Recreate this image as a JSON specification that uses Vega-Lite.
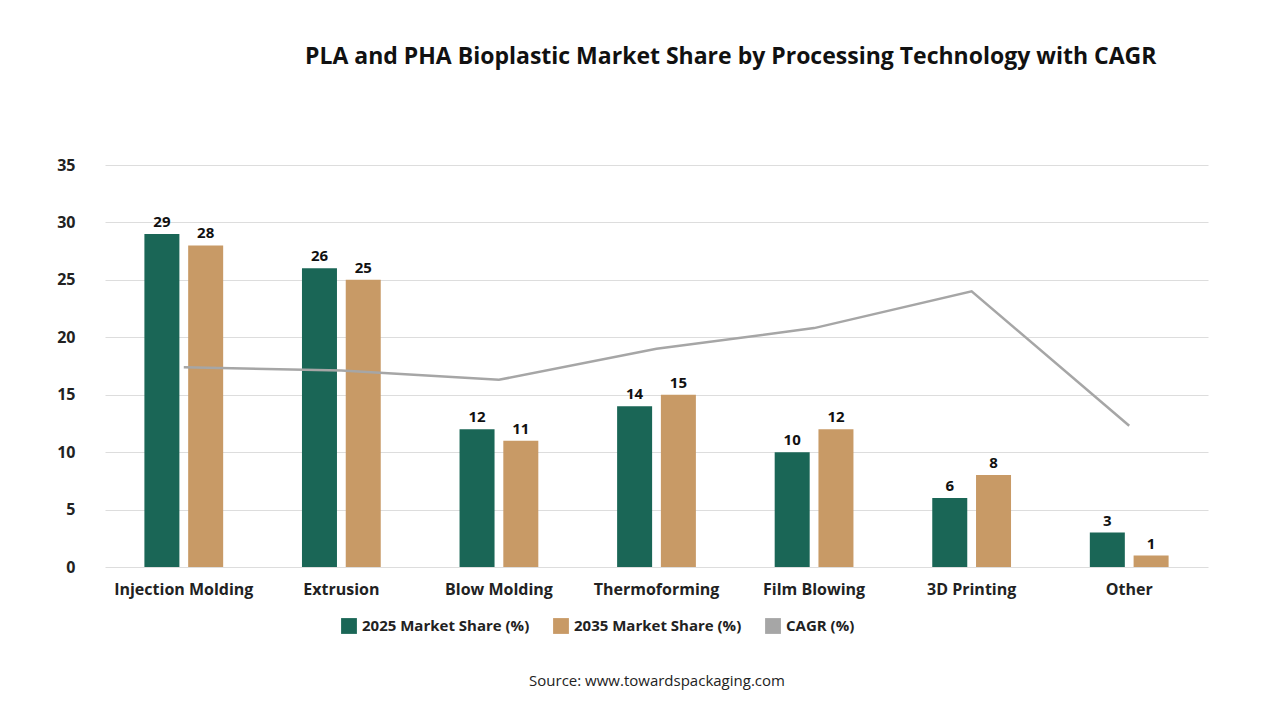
{
"$schema":"https://vega.github.io/schema/vega-lite/v6.json",
"width":1103,"height":402,
"autosize":{"type":"none"},
"padding":{"left":105,"top":165,"right":72,"bottom":153},
"background":"white",
"config":{"font":"Open Sans","view":{"stroke":null}},
"title":{"text":"PLA and PHA Bioplastic Market Share by Processing Technology with CAGR","anchor":"start","frame":"group","dx":200,"offset":88,"fontSize":23,"fontWeight":"bold","color":"#111","font":"Open Sans"},
"datasets":{
"bars":[
{"cat":"Injection Molding","series":"2025 Market Share (%)","v":29},
{"cat":"Injection Molding","series":"2035 Market Share (%)","v":28},
{"cat":"Extrusion","series":"2025 Market Share (%)","v":26},
{"cat":"Extrusion","series":"2035 Market Share (%)","v":25},
{"cat":"Blow Molding","series":"2025 Market Share (%)","v":12},
{"cat":"Blow Molding","series":"2035 Market Share (%)","v":11},
{"cat":"Thermoforming","series":"2025 Market Share (%)","v":14},
{"cat":"Thermoforming","series":"2035 Market Share (%)","v":15},
{"cat":"Film Blowing","series":"2025 Market Share (%)","v":10},
{"cat":"Film Blowing","series":"2035 Market Share (%)","v":12},
{"cat":"3D Printing","series":"2025 Market Share (%)","v":6},
{"cat":"3D Printing","series":"2035 Market Share (%)","v":8},
{"cat":"Other","series":"2025 Market Share (%)","v":3},
{"cat":"Other","series":"2035 Market Share (%)","v":1}],
"cagr":[
{"cat":"Injection Molding","series":"CAGR (%)","v":17.4},
{"cat":"Extrusion","series":"CAGR (%)","v":17.1},
{"cat":"Blow Molding","series":"CAGR (%)","v":16.3},
{"cat":"Thermoforming","series":"CAGR (%)","v":19.0},
{"cat":"Film Blowing","series":"CAGR (%)","v":20.8},
{"cat":"3D Printing","series":"CAGR (%)","v":24.0},
{"cat":"Other","series":"CAGR (%)","v":12.3}]
},
"encoding":{
"x":{"field":"cat","type":"nominal","sort":null,"scale":{"paddingInner":0,"paddingOuter":0},
"axis":{"labelAngle":0,"labelFontSize":16,"labelFontWeight":"bold","labelColor":"#222","ticks":false,"domain":false,"labelPadding":14,
"title":"Source: www.towardspackaging.com","titleFontSize":15,"titleFontWeight":"normal","titleColor":"#222","titlePadding":76}},
"y":{"field":"v","type":"quantitative","scale":{"domain":[0,35]},
"axis":{"values":[0,5,10,15,20,25,30,35],"title":null,"labelFontSize":16,"labelFontWeight":"bold","labelColor":"#222","ticks":false,"domain":false,"gridColor":"#dddddd","labelPadding":30}}
},
"layer":[
{"data":{"name":"bars"},"mark":{"type":"bar","width":35},
 "encoding":{"xOffset":{"field":"series","scale":{"paddingInner":0.4,"paddingOuter":1.5}},
 "color":{"field":"series","type":"nominal","scale":{"domain":["2025 Market Share (%)","2035 Market Share (%)","CAGR (%)"],"range":["#1a6656","#c89a66","#a6a6a6"]},
 "legend":{"orient":"none","legendX":235,"legendY":452,"direction":"horizontal","title":null,"labelFontSize":15,"labelFontWeight":"bold","labelColor":"#222","labelLimit":400,"symbolType":"square","symbolSize":250,"columnPadding":22}}}},
{"data":{"name":"bars"},"mark":{"type":"text","dy":-12,"fontSize":15,"fontWeight":"bold","color":"#111"},
 "encoding":{"xOffset":{"field":"series","scale":{"paddingInner":0.4,"paddingOuter":1.5}},"text":{"field":"v"}}},
{"data":{"name":"cagr"},"mark":{"type":"line","strokeWidth":2.5,"color":"#a6a6a6"},"encoding":{}}
]
}
